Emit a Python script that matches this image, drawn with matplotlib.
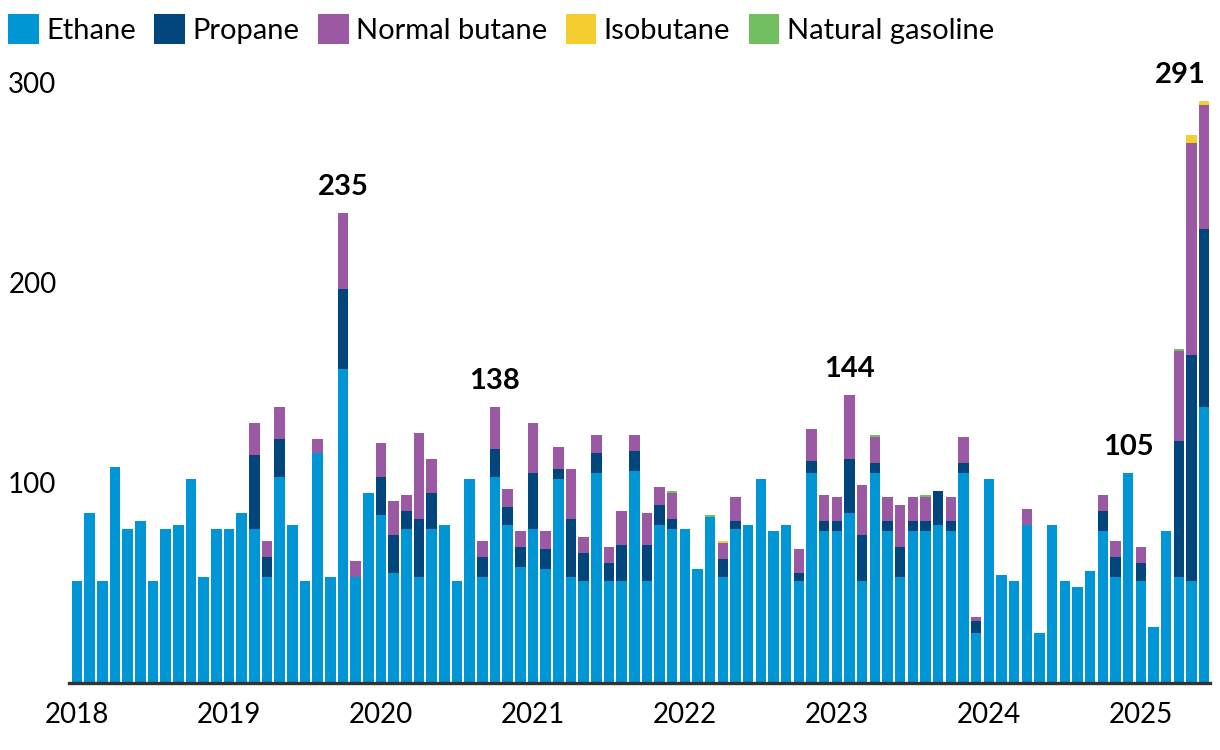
import numpy as np
import matplotlib
matplotlib.use("Agg")
import matplotlib.pyplot as plt
from matplotlib.patches import Patch

plt.rcParams['font.family'] = ['Lato', 'DejaVu Sans']

# monthly values, Jan 2018 .. Jun 2025
ethane = [51, 85, 51, 108, 77, 81, 51, 77, 79, 102, 53, 77,
          77, 85, 77, 53, 103, 79, 51, 115, 53, 157, 53, 95,
          84, 55, 77, 53, 77, 79, 51, 102, 53, 103, 79, 58,
          77, 57, 102, 53, 51, 105, 51, 51, 106, 51, 79, 77,
          77, 57, 83, 53, 77, 79, 102, 76, 79, 51, 105, 76,
          76, 85, 51, 105, 76, 53, 76, 76, 79, 76, 105, 25,
          102, 54, 51, 79, 25, 79, 51, 48, 56, 76, 53, 105,
          51, 28, 76, 53, 51, 138]
propane = [0, 0, 0, 0, 0, 0, 0, 0, 0, 0, 0, 0,
           0, 0, 37, 10, 19, 0, 0, 0, 0, 40, 0, 0,
           19, 19, 9, 29, 18, 0, 0, 0, 10, 14, 9, 10,
           28, 10, 5, 29, 14, 10, 9, 18, 10, 18, 10, 5,
           0, 0, 0, 9, 4, 0, 0, 0, 0, 4, 6, 5,
           5, 27, 23, 5, 5, 15, 5, 5, 17, 5, 5, 6,
           0, 0, 0, 0, 0, 0, 0, 0, 0, 10, 10, 0,
           9, 0, 0, 68, 113, 89]
butane = [0, 0, 0, 0, 0, 0, 0, 0, 0, 0, 0, 0,
          0, 0, 16, 8, 16, 0, 0, 7, 0, 38, 8, 0,
          17, 17, 8, 43, 17, 0, 0, 0, 8, 21, 9, 8,
          25, 9, 11, 25, 8, 9, 8, 17, 8, 16, 9, 13,
          0, 0, 0, 8, 12, 0, 0, 0, 0, 12, 16, 13,
          12, 32, 25, 13, 12, 21, 12, 12, 0, 12, 13, 2,
          0, 0, 0, 8, 0, 0, 0, 0, 0, 8, 8, 0,
          8, 0, 0, 45, 106, 62]
isobutane = [0] * 90
isobutane[51] = 1
isobutane[88] = 4
isobutane[89] = 2
gasoline = [0] * 90
gasoline[47] = 1
gasoline[50] = 1
gasoline[63] = 1
gasoline[67] = 1
gasoline[87] = 1

years = ['2018', '2019', '2020', '2021', '2022', '2023', '2024', '2025']
# highlighted totals: (bar index, label)
callouts = [(21, '235'), (33, '138'), (61, '144'), (83, '105'), (89, '291')]

names = ['Ethane', 'Propane', 'Normal butane', 'Isobutane', 'Natural gasoline']
colors = ['#0096D6', '#00457C', '#9B59A3', '#F5CD2E', '#72BF5F']
series = [ethane, propane, butane, isobutane, gasoline]

fig = plt.figure(figsize=(12.2, 7.5), dpi=100)
ax = fig.add_axes([69 / 1220, 67 / 750, 1141 / 1220, 600 / 750])

x = np.arange(len(ethane))
bottom = np.zeros(len(ethane))
for vals, c in zip(series, colors):
    vals = np.array(vals, dtype=float)
    ax.bar(x, vals, bottom=bottom, width=0.82, color=c, linewidth=0)
    bottom += vals

ax.set_xlim(-0.63, 89.45)
ax.set_ylim(0, 300)

ax.set_xticks(np.arange(0, 90, 12))
ax.set_xticklabels(years, fontsize=20)
ax.set_yticks([100, 200, 300])
ax.set_yticklabels(['100', '200', '300'], fontsize=20)
ax.tick_params(axis='x', length=0, pad=14)
ax.tick_params(axis='y', length=0, pad=9)
for s in ['top', 'right', 'left']:
    ax.spines[s].set_visible(False)
ax.spines['bottom'].set_linewidth(2.4)
ax.spines['bottom'].set_color('#333333')

for i, lab in callouts:
    xi = i - 1.9 if i == 89 else i
    ax.text(xi, bottom[i] + 13, lab, ha='center', va='center',
            fontsize=21, fontweight='bold', clip_on=False)

handles = [Patch(facecolor=c, edgecolor='none', label=n) for n, c in zip(names, colors)]
fig.legend(handles=handles, loc='upper left', bbox_to_anchor=(8 / 1220, 1 - 14 / 750), ncol=5,
           frameon=False, fontsize=21, handlelength=1.05, handleheight=1.2,
           handletextpad=0.25, columnspacing=0.64, borderaxespad=0, borderpad=0)

fig.savefig('out.png', dpi=100)
